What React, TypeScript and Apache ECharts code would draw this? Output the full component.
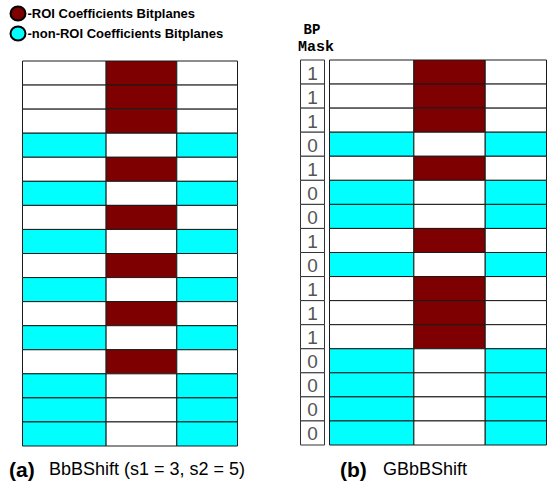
import React, { useEffect, useRef } from "react";
import * as echarts from "echarts";

// Row types, top to bottom: "R" = ROI row (white | ROI | white), "N" = non-ROI row (bg | white | bg)
const rowsA = ["R", "R", "R", "N", "R", "N", "R", "N", "R", "N", "R", "N", "R", "N", "N", "N"];
const maskB = [1, 1, 1, 0, 1, 0, 0, 1, 0, 1, 1, 1, 0, 0, 0, 0];
const colWidths = [84, 71, 61];
const legendItems = ["-ROI Coefficients Bitplanes", "-non-ROI Coefficients Bitplanes"];
const captionA = ["(a)", "BbBShift (s1 = 3, s2 = 5)"];
const captionB = ["(b)", "GBbBShift"];
const maskTitle = ["BP", "Mask"];

const WHITE = 0, ROI = 1, NON = 2;
const fills = ["#ffffff", "#7f0000", "#00ffff"];

const edges = colWidths.reduce<number[]>((acc, w) => { acc.push(acc[acc.length - 1] + w); return acc; }, [0]);
const total = edges[edges.length - 1];

function cellsFromRows(rows: boolean[]) {
  const out: number[][] = [];
  rows.forEach((isRoi, r) => {
    const kinds = isRoi ? [WHITE, ROI, WHITE] : [NON, WHITE, NON];
    kinds.forEach((k, c) => out.push([c, r, k]));
  });
  return out;
}

const dataA = cellsFromRows(rowsA.map((t) => t === "R"));
const dataB = cellsFromRows(maskB.map((b) => b === 1));
const dataMask = maskB.map((b, r) => [0, r, b]);

const renderCell = (params: any, api: any) => {
  const col = api.value(0), row = api.value(1), kind = api.value(2);
  const p0 = api.coord([edges[col], row]);
  const p1 = api.coord([edges[col + 1], row + 1]);
  return {
    type: "rect",
    shape: { x: p0[0], y: p0[1], width: p1[0] - p0[0], height: p1[1] - p0[1] },
    style: { fill: fills[kind], stroke: "#1a1a1a", lineWidth: 1 },
  };
};

const renderMask = (params: any, api: any) => {
  const row = api.value(1), bit = api.value(2);
  const p0 = api.coord([0, row]);
  const p1 = api.coord([1, row + 1]);
  return {
    type: "group",
    children: [
      {
        type: "rect",
        shape: { x: p0[0], y: p0[1], width: p1[0] - p0[0], height: p1[1] - p0[1] },
        style: { fill: "#fff", stroke: "#333", lineWidth: 1 },
      },
      {
        type: "text",
        style: {
          text: String(bit),
          x: (p0[0] + p1[0]) / 2,
          y: (p0[1] + p1[1]) / 2 + 1,
          align: "center",
          verticalAlign: "middle",
          fontSize: 19,
          fontFamily: "Liberation Sans",
          fill: "#555",
        },
      },
    ],
  };
};

export default function App() {
  const ref = useRef<HTMLDivElement>(null);
  useEffect(() => {
    const chart = echarts.init(ref.current!, null, { renderer: "svg" });
    const hiddenVal = (min: number, max: number, inverse = false) => ({
      type: "value", min, max, inverse, show: false,
    });
    const txt = (x: number, y: number, text: string, fontSize: number, bold: boolean, extra: any = {}) => ({
      type: "text", x, y,
      style: { text, fontSize, fontWeight: bold ? "bold" : "normal", fontFamily: "Liberation Sans", fill: "#000", verticalAlign: "middle", ...extra },
    });
    chart.setOption({
      animation: false,
      backgroundColor: "#fff",
      grid: [
        { left: 22.5, top: 61, width: 215, height: 385 },
        { left: 300.5, top: 60, width: 24, height: 385 },
        { left: 329.5, top: 60, width: 217, height: 385 },
      ],
      xAxis: [
        { ...hiddenVal(0, total), gridIndex: 0 },
        { ...hiddenVal(0, 1), gridIndex: 1 },
        { ...hiddenVal(0, total), gridIndex: 2 },
      ],
      yAxis: [
        { ...hiddenVal(0, rowsA.length, true), gridIndex: 0 },
        { ...hiddenVal(0, maskB.length, true), gridIndex: 1 },
        { ...hiddenVal(0, maskB.length, true), gridIndex: 2 },
      ],
      series: [
        { type: "custom", xAxisIndex: 0, yAxisIndex: 0, renderItem: renderCell, data: dataA, encode: { x: 0, y: 1 } },
        { type: "custom", xAxisIndex: 1, yAxisIndex: 1, renderItem: renderMask, data: dataMask, encode: { x: 0, y: 1 } },
        { type: "custom", xAxisIndex: 2, yAxisIndex: 2, renderItem: renderCell, data: dataB, encode: { x: 0, y: 1 } },
      ],
      graphic: [
        { type: "ellipse", shape: { cx: 18, cy: 13.5, rx: 7.5, ry: 7 }, style: { fill: fills[ROI], stroke: "#000", lineWidth: 2 } },
        { type: "ellipse", shape: { cx: 18, cy: 33.5, rx: 7.5, ry: 7 }, style: { fill: fills[NON], stroke: "#000", lineWidth: 2 } },
        txt(27.5, 13.5, legendItems[0], 13, true),
        txt(27.5, 33.5, legendItems[1], 13, true),
        { type: "text", x: 312, y: 30, style: { text: maskTitle[0], fontSize: 14, fontWeight: "bold", fontFamily: "Liberation Mono", fill: "#000", align: "center", verticalAlign: "middle" } },
        { type: "text", x: 316, y: 47, style: { text: maskTitle[1], fontSize: 15, fontWeight: "bold", fontFamily: "Liberation Mono", fill: "#000", align: "center", verticalAlign: "middle" } },
        txt(9, 469, captionA[0], 21, true),
        txt(49, 469, captionA[1], 18, false),
        txt(340, 469, captionB[0], 21, true),
        txt(383, 469, captionB[1], 18, false),
      ],
    });
    return () => chart.dispose();
  }, []);
  return <div ref={ref} style={{ position: "fixed", left: 0, top: 0, width: 551, height: 486 }} />;
}
